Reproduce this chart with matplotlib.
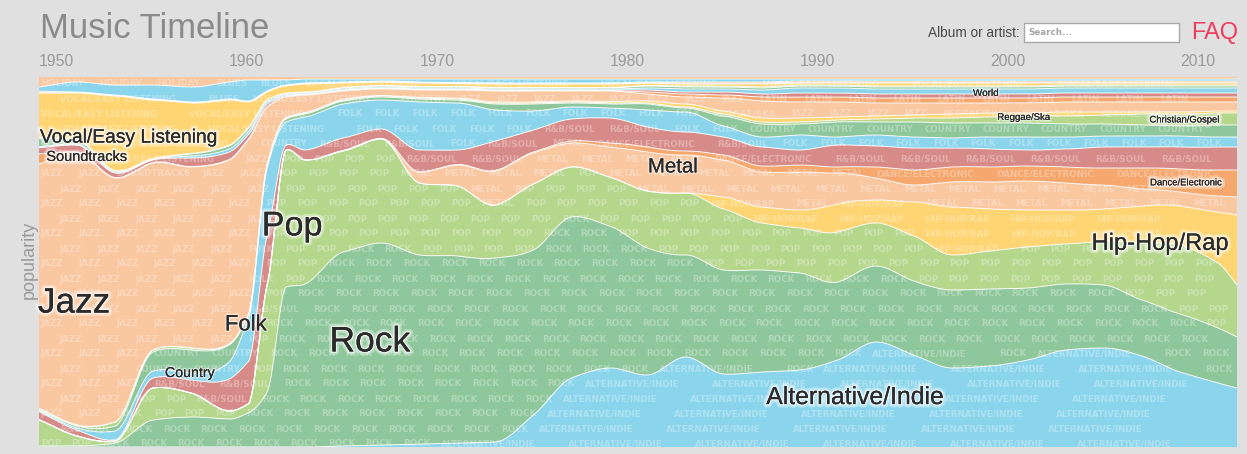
import numpy as np
import matplotlib
matplotlib.use("Agg")
import matplotlib.pyplot as plt
import matplotlib.patheffects as pe
from matplotlib.patches import Rectangle

# ---------------- data (relative popularity per sampled year) ----------------
years = [1950, 1952, 1954, 1956, 1958, 1960, 1961, 1962, 1963, 1964, 1966, 1968,
         1970, 1972, 1974, 1976, 1978, 1980, 1982, 1984, 1986, 1988, 1990, 1992,
         1994, 1996, 1998, 2000, 2002, 2004, 2006, 2008, 2010, 2012, 2013]

alternative_indie = [0, 0, 0, 0, 0, 0, 0, 0, 0, 0, 1, 2, 3, 4, 5, 32, 69, 79, 72, 90,
                     73, 75, 77, 87, 105, 92, 79, 81, 87, 97, 99, 91, 75, 64, 59]
rock = [1, 1, 4, 27, 30, 28, 34, 55, 160, 163, 194, 202, 189, 187, 184, 165, 161, 142, 127, 102,
        104, 102, 97, 78, 76, 74, 78, 77, 72, 66, 63, 56, 58, 55, 51]
pop = [26, 10, 2, 32, 24, 8, 9, 107, 137, 124, 101, 104, 72, 70, 53, 66, 50, 49, 57, 62,
       61, 47, 45, 50, 43, 45, 35, 38, 41, 40, 44, 57, 69, 65, 52]
hip_hop_rap = [0, 0, 0, 0, 0, 0, 0, 0, 0, 0, 0, 0, 0, 0, 0, 0, 0, 0, 0, 0,
               12, 16, 18, 28, 23, 34, 48, 42, 37, 34, 32, 37, 39, 51, 70]
metal = [0, 0, 0, 0, 0, 0, 0, 0, 0, 0, 0.5, 0.5, 11, 21, 34, 31, 24, 30, 39, 38,
         37, 35, 38, 31, 22, 17, 25, 27, 29, 27, 24, 17, 14, 16, 18]
dance_electronic = [0, 0, 0, 0, 0, 0, 0, 0, 0, 0, 0, 0, 0, 0.5, 0.5, 1, 2, 4, 5, 4,
                    5, 6, 7, 6, 11, 15, 15, 15, 15, 16, 17, 21, 23, 26, 27]
rnb_soul = [8, 6, 1, 10, 13, 32, 42, 50, 5, 10, 12.5, 9.5, 22, 14.5, 29.5, 22, 22, 25, 20, 19,
            18, 19, 15, 22, 21, 22, 19, 18, 16, 18, 21, 21, 22, 23, 23]
folk = [1, 2, 9, 7, 7, 17, 42, 67, 23, 33, 34, 29, 48, 47, 31, 19, 12, 10, 17, 20,
        11, 10, 15, 8, 11, 11, 10, 12, 13, 12, 11, 11, 11, 10, 10]
country = [1, 2, 5, 19, 23, 17, 4, 3, 3, 3, 3, 3, 3, 3, 6, 7, 4, 4, 6, 4,
           10, 13, 11, 15, 13, 15, 15, 14, 14, 13, 12, 11, 10, 12, 12]
christian_gospel = [1, 1, 4, 2, 2, 1, 1, 1, 1, 1, 1, 1, 1, 1, 1, 1, 1, 1, 1, 1,
                    2, 2, 2, 2, 3, 4, 5, 6, 7, 8, 9, 11, 12, 12, 12]
reggae_ska = [0, 0, 0, 0, 0, 0, 0, 0, 0.5, 0.5, 0.5, 0.5, 0.5, 1, 1, 1, 1, 1.5, 2, 3,
              3, 4, 4, 3, 3, 3, 4, 4, 3, 4, 3, 2, 2, 2, 2]
jazz = [242, 272, 244, 187, 181, 184, 175, 57, 20.5, 17.5, 8.5, 6.5, 7.5, 8, 11, 11, 10, 10.5, 7, 7,
        13, 17, 16, 15, 13, 12, 11, 10, 10, 10, 10, 10, 10, 9, 9]
latin = [10, 1, 0.5, 0.5, 0.5, 0.5, 0.5, 0.5, 0.5, 0.5, 0.5, 0.5, 0.5, 0.5, 0.5, 0.5, 0.5, 0.5, 2, 3,
         3, 4, 5, 5, 5, 5, 5, 5, 5, 5, 5, 5, 5, 5, 5]
soundtracks = [6, 7, 4.5, 2.5, 8.5, 7.5, 4.5, 2.5, 1, 0.5, 0.5, 0.5, 0.5, 0.5, 0.5, 0.5, 0.5, 0.5, 2, 2,
               3, 3, 4, 4, 4, 4, 4, 4, 4, 4, 4, 4, 4, 4, 4]
world = [1, 1, 1, 0.5, 2, 3, 3, 2, 1, 1, 1, 1, 1, 1, 1, 1, 1, 1, 2, 3,
         3, 4, 5, 5, 5, 5, 5, 5, 5, 5, 5, 5, 5, 5, 5]
classical = [8, 4, 1, 0.5, 2, 3, 3, 1.5, 1, 0.5, 1, 1, 1, 1, 1, 1, 1, 1, 2, 2,
             2, 2, 2, 2, 2, 2, 2, 2, 2, 2, 2, 2, 2, 2, 2]
comedy = [1, 1, 0.5, 0.5, 0.5, 1, 1, 0.5, 0.5, 0.5, 0.5, 0.5, 0.5, 0.5, 0.5, 0.5, 0.5, 0.5, 0.5, 1,
          1, 1, 1, 1, 1, 1, 1, 1, 1, 1, 1, 1, 1, 1, 1]
vocal_easy_listening = [44, 46, 74.5, 58.5, 50.5, 45, 26, 8, 7, 8, 4.5, 3.5, 3.5, 3, 3.5, 3.5, 3.5, 3.5, 2.5, 2,
                        2, 3, 2, 2, 3, 3, 3, 3, 3, 2, 2, 2, 2, 2, 2]
new_age = [1, 0.5, 0.5, 0.5, 0.5, 0.5, 0.5, 0.5, 0.5, 0.5, 0.5, 0.5, 0.5, 0.5, 0.5, 0.5, 0.5, 0.5, 0.5, 1,
           1, 1, 1, 1, 1, 1, 1, 1, 1, 1, 1, 1, 1, 1, 1]
childrens = [1, 0.5, 0.5, 0.5, 0.5, 0.5, 0.5, 0.5, 0.5, 0.5, 0.5, 0.5, 0.5, 0.5, 0.5, 0.5, 0.5, 0.5, 0.5, 1,
             1, 1, 1, 1, 1, 1, 1, 1, 1, 1, 1, 1, 1, 1, 1]
blues = [4, 10, 10, 14, 15, 17, 21, 11, 5, 4, 3, 2, 3, 3.5, 4, 4, 4, 4, 3, 3,
         3, 3, 2, 2, 2, 2, 2, 2, 2, 2, 2, 2, 2, 2, 2]
holiday = [10, 5, 8, 8, 10, 5, 3, 3, 3, 2, 2, 2, 2, 2, 2, 2, 2, 2, 2, 2,
           2, 2, 2, 2, 2, 2, 2, 2, 2, 2, 2, 2, 2, 2, 2]

genres = ["Alternative/Indie", "Rock", "Pop", "Hip-Hop/Rap", "Metal", "Dance/Electronic",
          "R&B/Soul", "Folk", "Country", "Christian/Gospel", "Reggae/Ska", "Jazz", "Latin",
          "Soundtracks", "World", "Classical", "Comedy", "Vocal/Easy Listening", "New Age",
          "Children's", "Blues", "Holiday"]
series = [alternative_indie, rock, pop, hip_hop_rap, metal, dance_electronic, rnb_soul, folk,
          country, christian_gospel, reggae_ska, jazz, latin, soundtracks, world, classical,
          comedy, vocal_easy_listening, new_age, childrens, blues, holiday]

decade_ticks = [1950, 1960, 1970, 1980, 1990, 2000, 2010]
decade_labels = ["1950", "1960", "1970", "1980", "1990", "2000", "2010"]

# labels: genre, x (year), y (percent), target width in px
genre_labels = [
    ("Vocal/Easy Listening", 1954.73, 83.5, 178),
    ("Soundtracks", 1952.52, 78.4, 81),
    ("Jazz", 1951.84, 38.9, 72),
    ("Pop", 1963.30, 59.5, 61),
    ("Folk", 1960.88, 33.0, 42),
    ("Country", 1957.94, 20.0, 50),
    ("Rock", 1967.40, 28.4, 81),
    ("Metal", 1983.33, 75.7, 50),
    ("Alternative/Indie", 1992.90, 13.5, 178),
    ("Hip-Hop/Rap", 2008.94, 54.9, 137),
    ("World", 1999.79, 95.7, 26),
    ("Reggae/Ska", 2001.79, 89.2, 53),
    ("Christian/Gospel", 2010.25, 88.4, 70),
    ("Dance/Electronic", 2010.31, 71.4, 72),
]

# ---------------- style ----------------
BG = "#e0e0e0"
BLUE, GREEN, LGREEN, YELLOW = "#8bd5ec", "#8ec79b", "#b4d78c", "#fed572"
PEACH, ORANGE, RED = "#f9c7a0", "#f6a76d", "#d78b88"
colors = [BLUE, GREEN, LGREEN, YELLOW, PEACH, ORANGE, RED,
          BLUE, GREEN, LGREEN, YELLOW, PEACH, ORANGE, RED,
          BLUE, GREEN, LGREEN, YELLOW, PEACH, ORANGE, BLUE, PEACH]
FONT = ["Liberation Sans", "DejaVu Sans"]

W, H = 1247, 454
fig = plt.figure(figsize=(W / 100, H / 100), dpi=100, facecolor=BG)
ax = fig.add_axes([39 / W, 7 / H, 1198 / W, 370 / H])
ax.set_facecolor(BG)
X0, X1 = 1950, 2013
ax.set_xlim(X0, X1)
ax.set_ylim(0, 100)
for s in ax.spines.values():
    s.set_visible(False)
ax.set_yticks([])

px_per_year = 1198 / (X1 - X0)
px_per_pct = 3.7


def pchip(x, y, xn):
    x = np.asarray(x, float)
    y = np.asarray(y, float)
    h = np.diff(x)
    d = np.diff(y) / h
    n = len(x)
    m = np.zeros(n)
    m[0], m[-1] = d[0], d[-1]
    for k in range(1, n - 1):
        if d[k - 1] * d[k] > 0:
            w1 = 2 * h[k] + h[k - 1]
            w2 = h[k] + 2 * h[k - 1]
            m[k] = (w1 + w2) / (w1 / d[k - 1] + w2 / d[k])
    idx = np.clip(np.searchsorted(x, xn) - 1, 0, n - 2)
    t = (xn - x[idx]) / h[idx]
    h00 = 2 * t**3 - 3 * t**2 + 1
    h10 = t**3 - 2 * t**2 + t
    h01 = -2 * t**3 + 3 * t**2
    h11 = t**3 - t**2
    return h00 * y[idx] + h10 * h[idx] * m[idx] + h01 * y[idx + 1] + h11 * h[idx] * m[idx + 1]


xs = np.linspace(X0, X1, 1600)
vals = np.clip(np.array([pchip(years, s, xs) for s in series]), 0, None)
share = vals / vals.sum(axis=0) * 100
cum = np.vstack([np.zeros(len(xs)), np.cumsum(share, axis=0)])

polys = []
for i, col in enumerate(colors):
    p = ax.fill_between(xs, cum[i], cum[i + 1], facecolor=col, linewidth=0, zorder=1)
    polys.append(p)

# texture of repeated genre names: one word after another along each row,
# each word belongs to the layer under it and is clipped to that layer
row_px = [84 + 15 * k for k in range(25)]
for k, py in enumerate(row_px):
    yv = (447 - py) / px_per_pct
    xpx = 2 + (k % 2) * 19
    while True:
        probe = X0 + (xpx + 12) / px_per_year
        j = min(int(np.searchsorted(xs, probe)), len(xs) - 1)
        col = cum[:, j]
        i = int(np.clip(np.searchsorted(col, yv, side="right") - 1, 0, len(genres) - 1))
        word = genres[i].upper()
        wlen = 6.9 * len(word)
        if xpx + wlen > 1196:
            break
        if cum[i + 1, j] - cum[i, j] > 0.3:
            t = ax.text(X0 + xpx / px_per_year, yv, word, ha="left", va="center",
                        fontsize=6.3, family="DejaVu Sans", weight="bold",
                        color=(1, 1, 1, 0.3), zorder=2, clip_on=True)
            t.set_clip_path(polys[i].get_paths()[0], ax.transData)
            xpx += wlen + 10
        else:
            xpx += 14

# white separators
for i in range(1, len(genres)):
    ax.plot(xs, cum[i], color="white", lw=0.7, alpha=0.9, zorder=3, solid_capstyle="butt")

renderer = fig.canvas.get_renderer()


def fit_width(t, target, use_height=False):
    bb = t.get_window_extent(renderer)
    cur = bb.height if use_height else bb.width
    t.set_fontsize(t.get_fontsize() * target / cur)


for name, lx, ly, tw in genre_labels:
    t = ax.text(lx, ly, name, ha="center", va="center", fontsize=12, family=FONT,
                color="#2b2b2b", zorder=6)
    fit_width(t, tw)
    glow = 5 if tw > 60 else 2.5
    t.set_path_effects([pe.withStroke(linewidth=glow, foreground=(1, 1, 1, 0.35)),
                        pe.withStroke(linewidth=glow * 0.45, foreground=(1, 1, 1, 0.6)),
                        pe.Normal()])

# decade ticks on top
tmp = fig.text(0, 0, "1950", fontsize=10, family=FONT)
tick_fs = 10 * 35 / tmp.get_window_extent(renderer).width
tmp.remove()
ax.xaxis.tick_top()
ax.set_xticks(decade_ticks)
ax.set_xticklabels(decade_labels, family=FONT)
ax.tick_params(axis="x", length=0, pad=6.0, labelsize=tick_fs, labelcolor="#9a9a9a")
for lab in ax.get_xticklabels():
    lab.set_ha("left")


def fx(px):
    return px / W


def fy(py):
    return 1 - py / H


title = fig.text(fx(40), fy(28), "Music Timeline", ha="left", va="center", fontsize=26,
                 family=FONT, color="#8a8a8a")
fit_width(title, 228)

yl = fig.text(fx(29), fy(260), "popularity", rotation=90, ha="center", va="center",
              fontsize=11, family=FONT, color="#9a9a9a")
fit_width(yl, 78, use_height=True)

alb = fig.text(fx(1020), fy(33), "Album or artist:", ha="right", va="center", fontsize=10,
               family=FONT, color="#4a4a4a")
fit_width(alb, 92)

fig.add_artist(Rectangle((fx(1024), fy(42)), 155 / W, 19 / H, transform=fig.transFigure,
                         facecolor="white", edgecolor="#a9a9a9", linewidth=1.0))
srch = fig.text(fx(1028), fy(32.5), "Search...", ha="left", va="center", fontsize=7,
                family="DejaVu Sans", weight="bold", color="#a5a5a5")
fit_width(srch, 44)

faq = fig.text(fx(1238), fy(32), "FAQ", ha="right", va="center", fontsize=16,
               family=FONT, color="#ef3b5d")
fit_width(faq, 47)

fig.savefig("out.png", dpi=100, facecolor=BG)
